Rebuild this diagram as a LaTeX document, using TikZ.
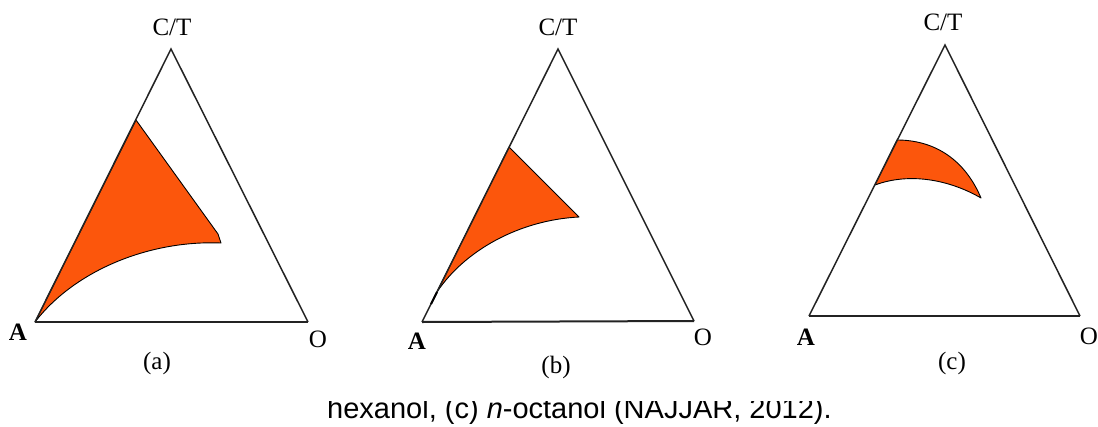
\documentclass[tikz,border=0pt]{standalone}
\usepackage{fontspec}
\setmainfont{Liberation Serif}
\newfontfamily\capfont{Liberation Sans}
\definecolor{region}{RGB}{252,86,12}
\definecolor{edgecol}{RGB}{35,35,35}
\begin{document}
\begin{tikzpicture}[x=1pt,y=-1pt,
  side/.style={draw=edgecol,line width=1.5pt,line join=miter},
  base/.style={draw=edgecol,line width=2pt},
  phase/.style={fill=region,draw=black,line width=0.9pt,line join=round},
  lbl/.style={font=\fontsize{25}{29}\selectfont,text=black,inner sep=0pt},
  capt/.style={font=\capfont\fontsize{29}{34}\selectfont,text=black,inner sep=0pt,anchor=base west}]
\useasboundingbox[fill=white] (0,0) rectangle (1098,426);

% ---------- panel (a)
\coordinate (aA) at (35,322);
\coordinate (aO) at (308,322);
\coordinate (aT) at (171,49);
\coordinate (aP1) at (136,120);
\coordinate (aP2) at (218,234);
\coordinate (aP3) at (221,243);
\draw[phase] (aA) -- (aP1) -- (aP2) -- (aP3) .. controls (150,240) and (75,270) .. (aA) -- cycle;
\draw[side] (aA) -- (aT) -- (aO);
\draw[base] (aA) -- (aO);
\node[lbl] (aTl) at (172,27) {C/T};
\node[lbl] (aAl) at (18,332) {\bfseries A};
\node[lbl] (aOl) at (318,339) {O};
\node[lbl] (aCap) at (157,363) {(a)};

% ---------- panel (b)
\coordinate (bA) at (422,322);
\coordinate (bO) at (694,321);
\coordinate (bT) at (558,49);
\coordinate (bP1) at (509,147);
\coordinate (bP2) at (579,217);
\coordinate (bP3) at (437,292);
\coordinate (bP4) at (431,304);
\draw[phase] (bP3) -- (bP1) -- (bP2) .. controls (520,220) and (465,250) .. (bP3) -- cycle;
\draw[side] (bA) -- (bT) -- (bO);
\draw[base] (bA) -- (bO);
\draw[black,line width=2pt] (bP3) -- (bP4);
\node[lbl] (bTl) at (558,27) {C/T};
\node[lbl] (bAl) at (417,341) {\bfseries A};
\node[lbl] (bOl) at (703,337) {O};
\node[lbl] (bCap) at (556,367) {(b)};

% ---------- panel (c)
\coordinate (cA) at (809,316);
\coordinate (cO) at (1080,316);
\coordinate (cT) at (945,45);
\coordinate (cP1) at (897,140);
\coordinate (cP2) at (981,198);
\coordinate (cP3) at (875,185);
\draw[phase] (cP1) .. controls (935,140) and (965,160) .. (cP2)
  .. controls (950,180) and (910,172) .. (cP3) -- cycle;
\draw[side] (cA) -- (cT) -- (cO);
\draw[base] (cA) -- (cO);
\node[lbl] (cTl) at (943,22) {C/T};
\node[lbl] (cAl) at (806,337) {\bfseries A};
\node[lbl] (cOl) at (1089,336) {O};
\node[lbl] (cCap) at (952,363) {(c)};

% ---------- caption (top cut off as in the source)
\begin{scope}
  \clip (0,401) rectangle (1098,426);
  \node[capt] (caption) at (327,418.5) {hexanol, (c) \textit{n}-octanol (NAJJAR, 2012).};
\end{scope}
\end{tikzpicture}
\end{document}
